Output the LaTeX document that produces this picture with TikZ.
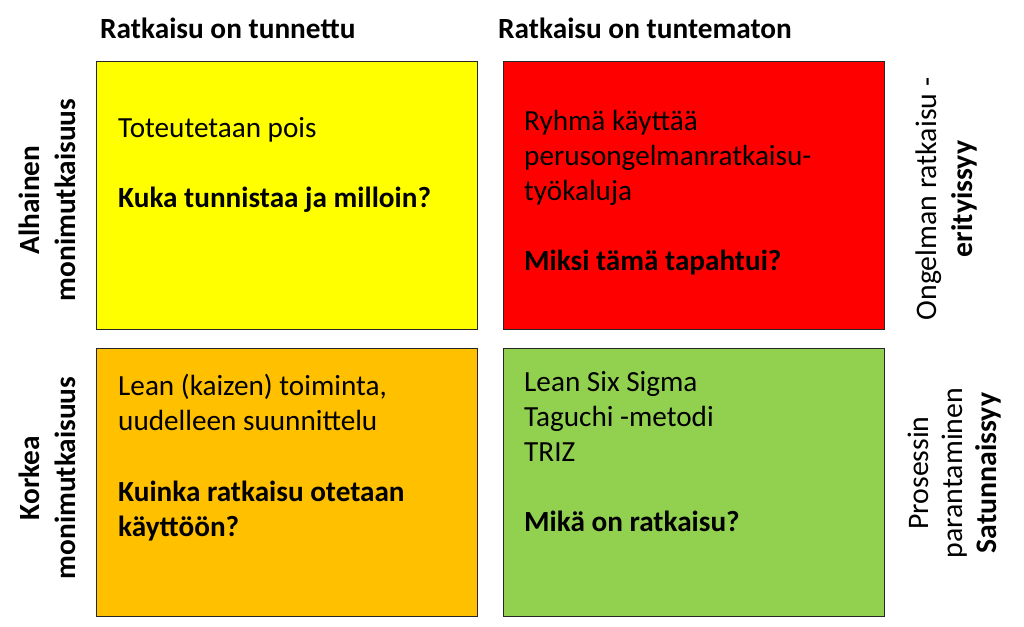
\documentclass[tikz,border=0pt]{standalone}
\usepackage{fontspec}
\setmainfont{Carlito}
\definecolor{qyellow}{HTML}{FFFF00}
\definecolor{qred}{HTML}{FF0000}
\definecolor{qorange}{HTML}{FFC000}
\definecolor{qgreen}{HTML}{92D050}
\begin{document}
\begin{tikzpicture}[x=1pt,y=-1pt,
  quad/.style={draw=black!85, line width=1.3pt, anchor=north west,
    minimum width=381pt, minimum height=268pt, inner sep=0pt},
  quadtext/.style={anchor=north west, align=left, inner sep=0pt,
    font=\fontsize{29.2}{35}\selectfont},
  colhead/.style={anchor=base west, inner sep=0pt,
    font=\bfseries\fontsize{29.3}{32}\selectfont},
  leftlabel/.style={rotate=90, align=center, inner sep=0pt,
    font=\bfseries\fontsize{29.3}{36}\selectfont},
  rightlabel/.style={rotate=90, align=center, inner sep=0pt,
    font=\fontsize{29.8}{36}\selectfont}]
\useasboundingbox (0,0) rectangle (1024,626);
% quadrants
\node[quad, fill=qyellow] (qy) at (96,61) {};
\node[quad, fill=qred]    (qr) at (503,61) {};
\node[quad, fill=qorange] (qo) at (96,348) {};
\node[quad, fill=qgreen]  (qg) at (503,348) {};
% column headers
\node[colhead] (h1) at (100,38) {Ratkaisu on tunnettu};
\node[colhead] (h2) at (498,38) {Ratkaisu on tuntematon};
% quadrant texts
\node[quadtext] (ty) at (118,117) {Toteutetaan pois\\[35pt]\textbf{Kuka tunnistaa ja milloin?}};
\node[quadtext] (tr) at (524,110) {Ryhmä käyttää\\perusongelmanratkaisu-\\työkaluja\\[35pt]\textbf{Miksi tämä tapahtui?}};
\node[quadtext] (to) at (118,374) {Lean (kaizen) toiminta,\\uudelleen suunnittelu\\[36pt]\textbf{Kuinka ratkaisu otetaan}\\\textbf{käyttöön?}};
\node[quadtext] (tg) at (524,371) {Lean Six Sigma\\Taguchi -metodi\\TRIZ\\[35pt]\textbf{Mikä on ratkaisu?}};
% side labels
\node[leftlabel] (l1) at (47,200) {Alhainen\\monimutkaisuus};
\node[leftlabel] (l2) at (47,478) {Korkea\\monimutkaisuus};
\node[rightlabel] (r1) at (946,199) {Ongelman ratkaisu -\\\textbf{erityissyy}};
\node[rightlabel, font=\fontsize{29.8}{34}\selectfont] (r2) at (955,473) {Prosessin\\parantaminen\\\textbf{Satunnaissyy}};
\end{tikzpicture}
\end{document}
